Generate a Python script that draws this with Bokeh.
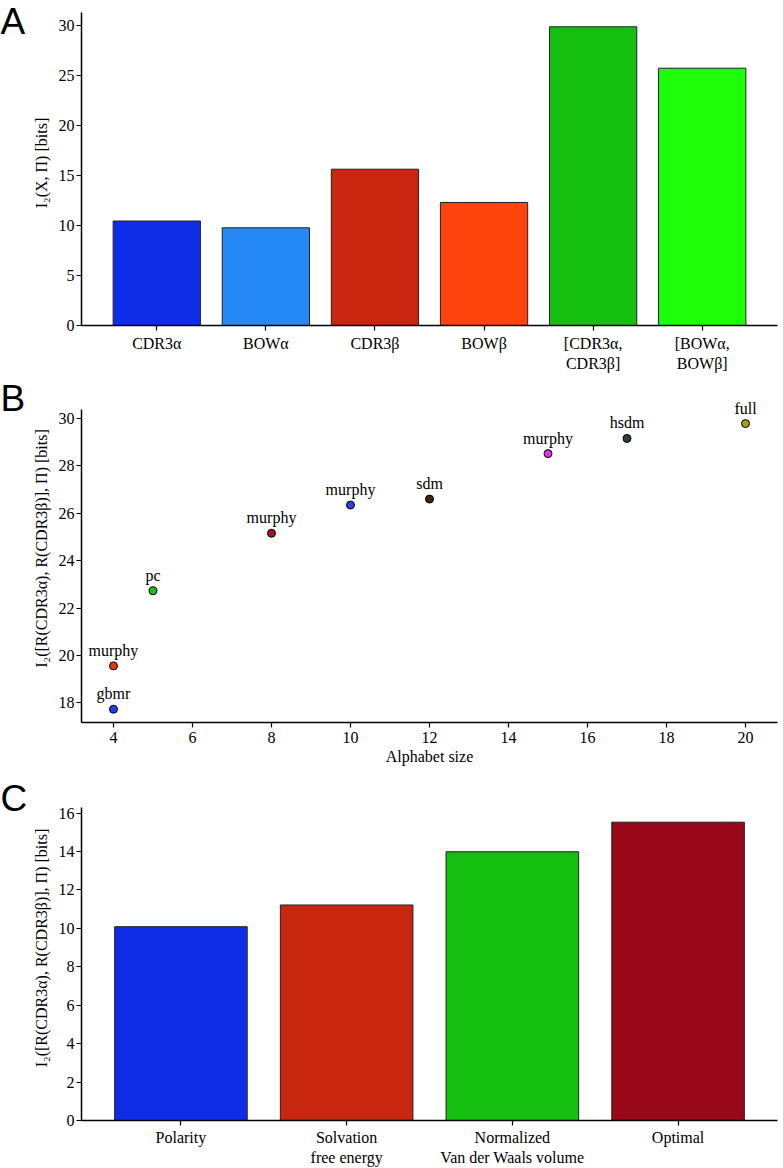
from bokeh.plotting import figure
from bokeh.models import Range1d, FixedTicker, LabelSet, ColumnDataSource
from bokeh.layouts import column, row
from bokeh.embed import file_html
from bokeh.resources import INLINE
from bokeh.core.properties import value

# ---- Panel A data ----
categories_a = ["CDR3α", "BOWα", "CDR3β", "BOWβ", "[CDR3α,\nCDR3β]", "[BOWα,\nBOWβ]"]
values_a = [10.45, 9.77, 15.63, 12.3, 29.87, 25.73]
colors_a = ["#0f2de6", "#2589f5", "#c8260e", "#ff430d", "#15bf10", "#1eff0a"]

# ---- Panel B data ----
alphabet_size = [4, 4, 5, 8, 10, 12, 15, 17, 20]
mi_b = [17.73, 19.56, 22.73, 25.16, 26.35, 26.6, 28.52, 29.16, 29.79]
names_b = ["gbmr", "murphy", "pc", "murphy", "murphy", "sdm", "murphy", "hsdm", "full"]
colors_b = ["#1f3ff5", "#e03a14", "#22b822", "#a8101e", "#2a40e8", "#3a2414", "#e030e8", "#2f3d3d", "#a89a1a"]

# ---- Panel C data ----
categories_c = ["Polarity", "Solvation\nfree energy", "Normalized\nVan der Waals volume", "Optimal"]
values_c = [10.09, 11.22, 13.99, 15.53]
colors_c = ["#0f2de6", "#c8260e", "#15bf10", "#990819"]

SERIF = "Liberation Serif"
FS = "16px"
LW = 28          # width of the panel-letter strip
W = 783 - LW     # width of each main figure


def style(p):
    p.title.visible = False
    p.outline_line_color = None
    p.xgrid.visible = False
    p.ygrid.visible = False
    p.background_fill_color = "white"
    for ax in (p.xaxis, p.yaxis):
        ax.axis_line_color = "black"
        ax.axis_line_width = 1.5
        ax.major_tick_line_color = "black"
        ax.major_tick_line_width = 1.2
        ax.major_tick_out = 5
        ax.major_tick_in = 0
        ax.minor_tick_line_color = None
        ax.major_label_text_font = SERIF
        ax.major_label_text_font_size = FS
        ax.major_label_text_color = "black"
        ax.axis_label_text_font = SERIF
        ax.axis_label_text_font_size = FS
        ax.axis_label_text_font_style = "normal"
        ax.axis_label_text_color = "black"
        ax.major_label_standoff = 2
        ax.axis_label_standoff = 6
    p.xaxis.major_label_standoff = 4


def letter_fig(txt, h, yrange, bottom, off):
    f = figure(width=LW, height=h, output_backend="svg", toolbar_location=None,
               x_range=Range1d(0, LW), y_range=yrange,
               min_border_left=0, min_border_right=0, min_border_top=0, min_border_bottom=bottom)
    f.title.visible = False
    f.axis.visible = False
    f.xgrid.visible = False
    f.ygrid.visible = False
    f.outline_line_color = None
    f.text(x=[0], y=[yrange.end], text=[txt], text_align="left", y_offset=off,
           text_baseline="top", text_font=value("Liberation Sans"),
           text_font_size="37px", text_color="black")
    return f


# ---- Figure A ----
HA, BA = 374, 49
yra = Range1d(0, 32.5)
pa = figure(width=W, height=HA, output_backend="svg", toolbar_location=None,
            x_range=Range1d(-0.69, 5.69), y_range=yra,
            min_border_left=81 - LW, min_border_right=6, min_border_top=0, min_border_bottom=BA)
xa = list(range(len(categories_a)))
pa.vbar(x=xa, top=values_a, width=0.8, fill_color=colors_a, line_color="#222222", line_width=1)
style(pa)
pa.yaxis.bounds = (0, 31.3)
pa.xaxis.ticker = FixedTicker(ticks=xa)
pa.xaxis.major_label_overrides = {i: c for i, c in enumerate(categories_a)}
pa.yaxis.ticker = FixedTicker(ticks=[0, 5, 10, 15, 20, 25, 30])
pa.yaxis.axis_label = "I₂(X, Π) [bits]"

# ---- Figure B ----
HB, BB = 401, 53
yrb = Range1d(17.17, 31.86)
pb = figure(width=W, height=HB, output_backend="svg", toolbar_location=None,
            x_range=Range1d(3.19, 20.81), y_range=yrb,
            min_border_left=81 - LW, min_border_right=6, min_border_top=0, min_border_bottom=BB)
src = ColumnDataSource(dict(x=alphabet_size, y=mi_b, name=names_b, color=colors_b))
pb.scatter(x="x", y="y", source=src, size=8, fill_color="color", line_color="black", line_width=1)
pb.add_layout(LabelSet(x="x", y="y", text="name", source=src, text_align="center",
                       text_baseline="bottom", y_offset=7, text_font=SERIF,
                       text_font_size=FS, text_color="black"))
style(pb)
pb.yaxis.bounds = (17.17, 30.38)
pb.xaxis.ticker = FixedTicker(ticks=[4, 6, 8, 10, 12, 14, 16, 18, 20])
pb.yaxis.ticker = FixedTicker(ticks=[18, 20, 22, 24, 26, 28, 30])
pb.xaxis.axis_label = "Alphabet size"
pb.xaxis.axis_label_standoff = 2
pb.yaxis.axis_label = "I₂([R(CDR3α), R(CDR3β)], Π) [bits]"

# ---- Figure C ----
HC, BC = 393, 48
yrc = Range1d(0, 17.96)
pc = figure(width=W, height=HC, output_backend="svg", toolbar_location=None,
            x_range=Range1d(-0.6, 3.6), y_range=yrc,
            min_border_left=81 - LW, min_border_right=6, min_border_top=0, min_border_bottom=BC)
xc = list(range(len(categories_c)))
pc.vbar(x=xc, top=values_c, width=0.8, fill_color=colors_c, line_color="#222222", line_width=1)
style(pc)
pc.yaxis.bounds = (0, 16.29)
pc.xaxis.ticker = FixedTicker(ticks=xc)
pc.xaxis.major_label_overrides = {i: c for i, c in enumerate(categories_c)}
pc.xaxis.major_label_standoff = 3
pc.yaxis.ticker = FixedTicker(ticks=list(range(0, 17, 2)))
pc.yaxis.axis_label = "I₂([R(CDR3α), R(CDR3β)], Π) [bits]"

layout = column(
    row(letter_fig("A", HA, yra, BA, 0), pa, spacing=0),
    row(letter_fig("B", HB, yrb, BB, 3), pb, spacing=0),
    row(letter_fig("C", HC, yrc, BC, 2), pc, spacing=0),
    spacing=0,
)
open("out.html", "w").write(file_html(layout, INLINE))
